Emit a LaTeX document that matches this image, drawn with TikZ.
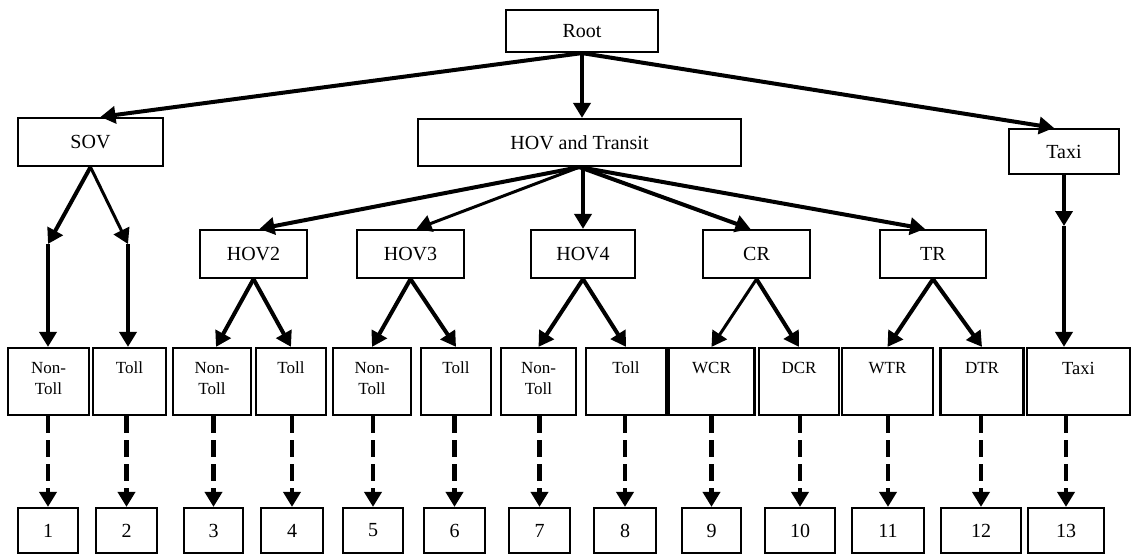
\documentclass[tikz,border=0pt]{standalone}
\usepackage{fontspec}
\setmainfont{Liberation Serif}
\usetikzlibrary{arrows.meta}

\newcommand{\toptext}[2]{\parbox[c][67pt][t]{#1}{\centering\vspace*{14pt}#2}}

\begin{document}
\begin{tikzpicture}[x=1pt,y=-1pt,>={Triangle[width=17pt,length=15pt]},
            box/.style={draw,line width=2.2pt,inner sep=0pt,font=\fontsize{20}{24}\selectfont},
            leaf/.style={box,minimum height=67pt,font=\fontsize{17}{21}\selectfont},
            num/.style={box,minimum height=45pt},
            branch/.style={->,line width=4pt},
            lightbranch/.style={->,line width=3pt},
            choice/.style={->,line width=4.5pt,dash pattern=on 17pt off 7pt}]
            \useasboundingbox (0,0) rectangle (1132,554);

            % top two levels
            \node[box,minimum width=152pt,minimum height=42pt] (R)  at (582,31)    {Root};
            \node[box,minimum width=145pt,minimum height=48pt] (S)  at (90.5,142)  {SOV};
            \node[box,minimum width=323pt,minimum height=47pt] (HT) at (579.5,142.5) {HOV and Transit};
            \node[box,minimum width=110pt,minimum height=45pt] (TU) at (1064,151.5) {Taxi};

            \node[box,minimum width=107pt,minimum height=48pt] (H2) at (253.5,254) {HOV2};
            \node[box,minimum width=107pt,minimum height=48pt] (H3) at (410.5,254) {HOV3};
            \node[box,minimum width=104pt,minimum height=48pt] (H4) at (583,254)   {HOV4};
            \node[box,minimum width=107pt,minimum height=48pt] (CR) at (756.5,254) {CR};
            \node[box,minimum width=106pt,minimum height=48pt] (TR) at (933,254)   {TR};

            % sub-modes
            \node[leaf,minimum width=81pt] (SN)  at (48.5,381.5) {\toptext{75pt}{Non-\\Toll}};
            \node[leaf,minimum width=73pt] (ST)  at (129.5,381.5) {\toptext{68pt}{Toll}};
            \node[leaf,minimum width=78pt] (H2N) at (212,381.5) {\toptext{72pt}{Non-\\Toll}};
            \node[leaf,minimum width=70pt] (H2T) at (291,381.5) {\toptext{66pt}{Toll}};
            \node[leaf,minimum width=78pt] (H3N) at (372,381.5) {\toptext{72pt}{Non-\\Toll}};
            \node[leaf,minimum width=70pt] (H3T) at (456,381.5) {\toptext{66pt}{Toll}};
            \node[leaf,minimum width=75pt] (H4N) at (538.5,381.5) {\toptext{70pt}{Non-\\Toll}};
            \node[leaf,minimum width=80pt] (H4T) at (626,381.5) {\toptext{74pt}{Toll}};
            \node[leaf,minimum width=86pt] (WCR) at (711.5,381.5) {\toptext{80pt}{WCR}};
            \node[leaf,minimum width=80pt] (DCR) at (799,381.5) {\toptext{74pt}{DCR}};
            \node[leaf,minimum width=91pt] (WTR) at (887.5,381.5) {\toptext{85pt}{WTR}};
            \node[leaf,minimum width=83pt] (DTR) at (982,381.5) {\toptext{77pt}{DTR}};
            \node[leaf,minimum width=103pt] (TL) at (1078.5,381.5) {\toptext{97pt}{\fontsize{18.5}{22}\selectfont Taxi}};

            % numbered alternatives
            \foreach \i/\x/\w in {1/48/60,2/126.5/61,3/213.5/59,4/292/62,5/373/60,6/454.5/61,7/539.5/61,
                                  8/625/62,9/711.5/59,10/800/70,11/888/72,12/981/80,13/1066/76}
                \node[num,minimum width=\w pt] (N\i) at (\x,530.5) {\i};

            \coordinate (sa) at (48,244);
            \coordinate (sb) at (128,244);
            \coordinate (tm) at (1064,226);

            \path[branch] (R.south) edge ([xshift=10pt]S.north)
                          (R.south) edge (R.south |- HT.north)
                          (R.south) edge ([xshift=-10pt]TU.north)
                          (HT.south) edge ([xshift=6pt]H2.north)
                          (HT.south) edge[lightbranch] ([xshift=6pt]H3.north)
                          (H4.north |- HT.south) edge (H4.north)
                          (HT.south) edge ([xshift=-6pt]CR.north)
                          (HT.south) edge ([xshift=-8pt]TR.north)
                          (S.south) edge (sa)
                          (S.south) edge[lightbranch] (sb)
                          (sa) edge (sa |- SN.north)
                          (sb) edge (sb |- ST.north)
                          (TU.south) edge (tm)
                          (tm) edge (tm |- TL.north)
                          (H2.south) edge ([xshift=4pt]H2N.north)
                          (H2.south) edge (H2T.north)
                          (H3.south) edge (H3N.north)
                          (H3.south) edge (H3T.north)
                          (H4.south) edge (H4N.north)
                          (H4.south) edge (H4T.north)
                          (CR.south) edge[lightbranch] (WCR.north)
                          (CR.south) edge (DCR.north)
                          (TR.south) edge (WTR.north)
                          (TR.south) edge (DTR.north);

            \foreach \a/\b in {SN/1,ST/2,H2N/3,H2T/4,H3N/5,H3T/6,H4N/7,H4T/8,WCR/9,DCR/10,WTR/11,DTR/12,TL/13}
                \draw[choice] (\a.south -| N\b.north) -- (N\b.north);
\end{tikzpicture}
\end{document}
